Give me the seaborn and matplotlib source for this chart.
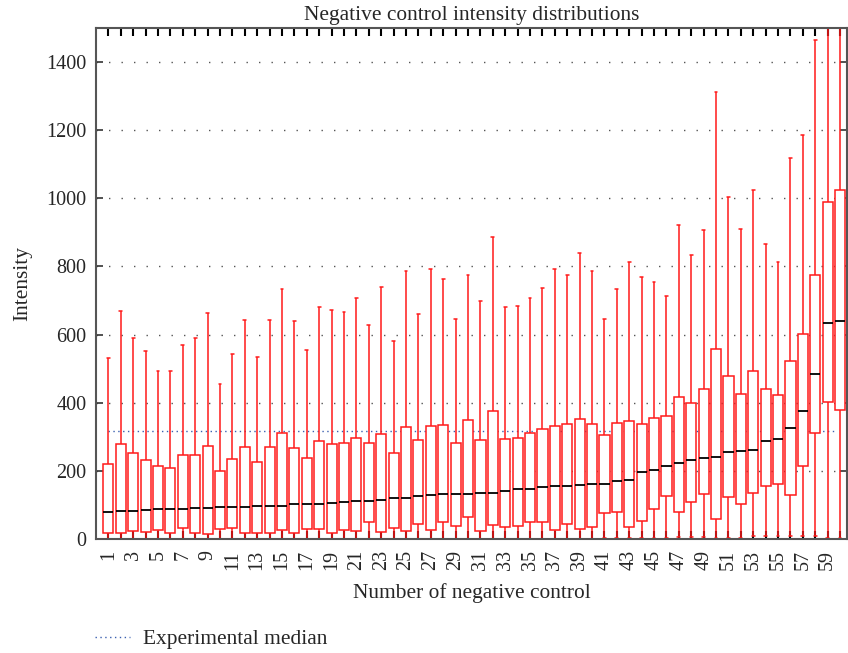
import numpy as np
import pandas as pd
import matplotlib
matplotlib.use("Agg")
import matplotlib.pyplot as plt
from matplotlib.lines import Line2D
import seaborn as sns

# summary statistics per negative control
controls = list(range(1, 61))
whisker_hi = [530, 668, 591, 552, 494, 494, 568, 591, 662, 455,
              542, 644, 535, 644, 735, 640, 556, 682, 671, 667,
              708, 629, 740, 582, 786, 660, 794, 764, 646, 776,
              699, 886, 680, 684, 708, 737, 794, 776, 839, 786,
              646, 735, 813, 769, 754, 714, 922, 834, 906, 1313,
              1003, 909, 1025, 867, 814, 1119, 1187, 1465, 1600, 1600]
q3 = [221, 278, 251, 233, 213, 209, 247, 247, 274, 199,
      235, 269, 225, 269, 310, 267, 238, 288, 280, 282,
      297, 281, 309, 252, 328, 290, 333, 336, 282, 348,
      292, 377, 293, 296, 312, 324, 333, 337, 352, 337,
      305, 341, 347, 339, 354, 361, 416, 398, 441, 559,
      477, 426, 492, 441, 424, 523, 603, 774, 989, 1024]
median = [78, 82, 83, 86, 89, 89, 89, 91, 92, 94,
          94, 95, 97, 97, 98, 102, 103, 104, 106, 109,
          111, 112, 114, 121, 121, 127, 130, 131, 132, 133,
          135, 136, 142, 147, 148, 153, 156, 156, 158, 161,
          162, 170, 174, 196, 202, 214, 223, 231, 238, 242,
          254, 258, 262, 289, 293, 327, 377, 484, 633, 641]
q1 = [17, 17, 23, 21, 27, 17, 33, 19, 15, 29,
      32, 19, 19, 19, 26, 19, 30, 28, 19, 27,
      23, 49, 21, 32, 23, 45, 25, 51, 38, 64,
      22, 41, 35, 37, 50, 50, 25, 45, 29, 36,
      77, 78, 34, 52, 87, 126, 78, 108, 131, 58,
      124, 102, 135, 157, 162, 128, 215, 312, 402, 379]
whisker_lo = [0] * 40 + [3, 4, 3, 3, 3, 4, 5, 5, 6, 3,
                         3, 3, 10, 10, 10, 10, 10, 10, 3, 3]
experimental_median = 318

# five points per control -> quartiles/median/extremes come out exactly
rows = []
for i, c in enumerate(controls):
    for v in (whisker_lo[i], q1[i], median[i], q3[i], whisker_hi[i]):
        rows.append({"control": c, "intensity": v})
df = pd.DataFrame(rows)

sns.set_style("ticks")
plt.rcParams["font.family"] = ["Liberation Serif", "DejaVu Serif"]

fig = plt.figure(figsize=(8.48, 6.53), dpi=100)
ax = fig.add_axes([0.1132, 0.1746, 0.8856, 0.7825])

red = "#ff1a1a"
sns.boxplot(
    data=df, x="control", y="intensity", order=controls,
    whis=np.inf, width=0.82, ax=ax,
    color="white", linecolor=red, linewidth=1.1, saturation=1,
    boxprops={"facecolor": "white", "edgecolor": red},
    medianprops={"color": "black", "linewidth": 1.3},
    whiskerprops={"color": red},
    capprops={"color": red},
    capwidths=0.22,
)

# experimental median reference line
ax.hlines(experimental_median, 0, len(controls) - 1.3, colors="#3a5fb0",
          linestyles=(0, (1, 2.5)), linewidth=1.0, zorder=0.5)

ax.set_ylim(0, 1500)
ax.set_xlim(-1, len(controls) - 0.44)
ax.set_yticks(np.arange(0, 1401, 200))
ax.yaxis.grid(True, color="#555555", linestyle=(0, (1, 8)), linewidth=1.0)
ax.set_axisbelow(True)

ax.set_xticks(range(len(controls)))
ax.set_xticklabels([str(c) if c % 2 == 1 else "" for c in controls],
                   rotation=90, fontsize=14.5)
ax.tick_params(axis="x", direction="in", top=True, bottom=True,
               length=6, width=1.5, color="black", pad=8)
ax.tick_params(axis="y", direction="in", left=True, right=True,
               length=5, width=1.2, color="#333333", labelsize=14.5, pad=7)

for side in ["left", "right", "top", "bottom"]:
    ax.spines[side].set_color("#555555")
    ax.spines[side].set_linewidth(1.5)

ax.set_title("Negative control intensity distributions", fontsize=15.4, pad=5.5)
ax.set_xlabel("Number of negative control", fontsize=15.4, labelpad=9)
ax.set_ylabel("Intensity", fontsize=15.4, labelpad=10)

handle = Line2D([], [], color="#3a5fb0", linestyle=(0, (1, 2.5)), linewidth=1.0)
fig.legend([handle], ["Experimental median"], loc="center left",
           bbox_to_anchor=(0.112, 0.0214), frameon=False, fontsize=15.4,
           handlelength=1.65, handletextpad=0.6, borderpad=0, borderaxespad=0)

fig.savefig("out.png", dpi=100)
